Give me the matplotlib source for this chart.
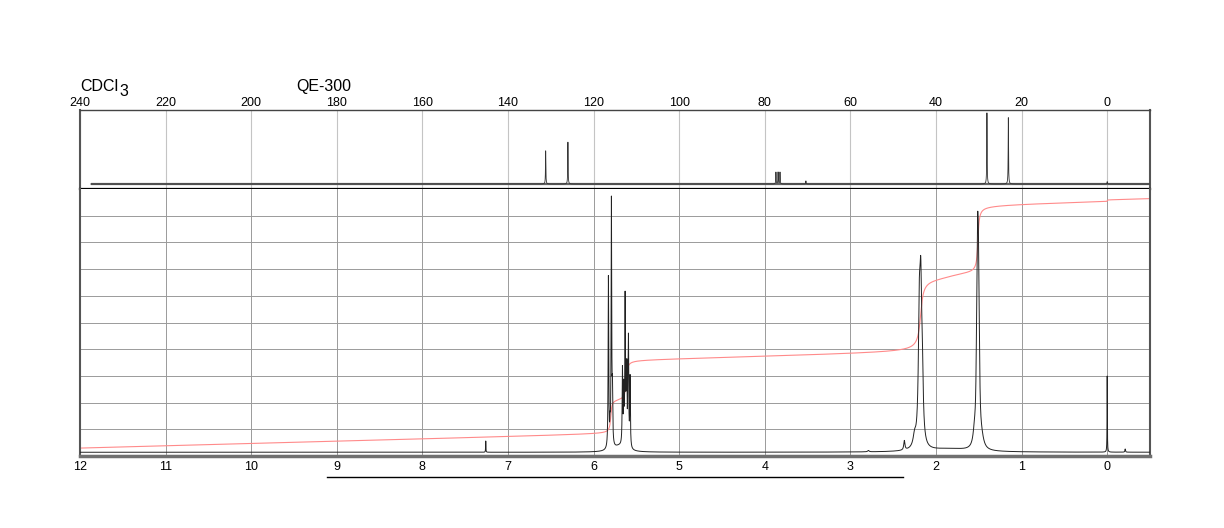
import numpy as np
import matplotlib.pyplot as plt

plt.rcParams['font.family'] = ['Liberation Sans', 'DejaVu Sans']

# 13C spectrum: peak positions (ppm) and heights above baseline
c13_ppm = [131.2, 126.0, 77.4, 76.9, 76.45, 70.4, 28.1, 23.1, 0.0]
c13_height = [0.42, 0.53, 0.15, 0.15, 0.15, 0.04, 0.90, 0.84, 0.03]
c13_base = 0.063
c13_start = 237.5
c13_ticks = [240, 220, 200, 180, 160, 140, 120, 100, 80, 60, 40, 20, 0]

# 1H spectrum: peak positions (ppm), heights and half widths
h1_ppm = [7.26,
          5.827, 5.808, 5.792, 5.780, 5.70,
          5.663, 5.648, 5.632, 5.620, 5.612, 5.600, 5.593, 5.574,
          2.79, 2.37, 2.25, 2.195, 2.178, 2.160, 1.85,
          1.55, 1.525, 1.514, 1.505, 1.495, 1.47,
          0.0, -0.21]
h1_height = [0.042,
             0.64, 0.06, 0.92, 0.18, 0.02,
             0.28, 0.20, 0.55, 0.20, 0.26, 0.20, 0.38, 0.26,
             0.005, 0.035, 0.04, 0.43, 0.50, 0.21, 0.012,
             0.05, 0.24, 0.54, 0.46, 0.21, 0.04,
             0.285, 0.012]
h1_hwhm = [0.002,
           0.004, 0.004, 0.004, 0.004, 0.08,
           0.004, 0.004, 0.004, 0.003, 0.003, 0.003, 0.004, 0.004,
           0.01, 0.008, 0.02, 0.013, 0.013, 0.012, 0.3,
           0.02, 0.008, 0.008, 0.008, 0.008, 0.03,
           0.002, 0.004]
h1_base = 0.014
h1_ticks = [12, 11, 10, 9, 8, 7, 6, 5, 4, 3, 2, 1, 0]

# integral trace: step positions, step sizes, step widths
int_ppm = [5.80, 5.62, 2.18, 1.85, 1.51, 0.0]
int_jump = [0.125, 0.15, 0.27, 0.03, 0.25, 0.006]
int_width = [0.010, 0.012, 0.025, 0.2, 0.012, 0.003]
int_start = 0.029
int_drift = 0.0085

# bar below the 1H axis (ppm)
bar_ppm = [9.11, 2.38]

fig = plt.figure(figsize=(12.24, 5.28), dpi=100)
ax_c = fig.add_axes([80/1224, 1-189/528, 1070/1224, 79/528])
ax_h = fig.add_axes([80/1224, 1-456/528, 1070/1224, 267/528])

# 13C
xc = np.arange(c13_start, -10, -0.01)
yc = np.full_like(xc, c13_base)
for p, h in zip(c13_ppm, c13_height):
    yc += h / (1 + ((xc - p) / 0.05) ** 2)
ax_c.hlines(c13_base, c13_start, -10, color='#666666', lw=1.6, zorder=2)
ax_c.plot(xc, yc, color='#333333', lw=0.6, zorder=3)
ax_c.set_xlim(240, -10)
ax_c.set_ylim(0, 1)
ax_c.set_xticks(c13_ticks)
ax_c.set_yticks([])
ax_c.tick_params(axis='x', top=False, bottom=False, labeltop=True, labelbottom=False,
                 length=0, pad=0.5, labelsize=9)
ax_c.grid(axis='x', color='#c4c4c4', lw=0.8)
ax_c.set_axisbelow(True)

# 1H
xh = np.arange(12, -0.5, -0.0005)
yh = np.full_like(xh, h1_base)
for p, h, w in zip(h1_ppm, h1_height, h1_hwhm):
    yh += h / (1 + ((xh - p) / w) ** 2)

integ = int_start + int_drift * (12 - xh)
for p, j, w in zip(int_ppm, int_jump, int_width):
    integ += j * (0.5 + np.arctan((p - xh) / w) / np.pi)

ax_h.plot(xh, integ, color='#ff8a8a', lw=0.8, zorder=2)
ax_h.plot(xh, yh, color='#222222', lw=0.7, zorder=3)
ax_h.set_xlim(12, -0.5)
ax_h.set_ylim(0, 1)
ax_h.set_xticks(h1_ticks)
ax_h.set_yticks(np.arange(0.1, 1.0, 0.1))
ax_h.tick_params(axis='x', length=0, pad=3.5, labelsize=9)
ax_h.tick_params(axis='y', length=0, labelleft=False)
ax_h.grid(color='#9a9a9a', lw=0.7)
ax_h.set_axisbelow(True)

ax_h.plot(bar_ppm, [-0.08, -0.08], color='black', lw=1.0,
          transform=ax_h.get_xaxis_transform(), clip_on=False)

# frame
for ax in (ax_c, ax_h):
    ax.spines['left'].set_color('#555555')
    ax.spines['left'].set_linewidth(1.5)
    ax.spines['right'].set_color('#555555')
    ax.spines['right'].set_linewidth(1.5)
ax_c.spines['top'].set_color('#444444')
ax_c.spines['top'].set_linewidth(1.0)
ax_c.spines['bottom'].set_color('black')
ax_c.spines['bottom'].set_linewidth(1.6)
ax_h.spines['top'].set_visible(False)
ax_h.spines['bottom'].set_color('#707070')
ax_h.spines['bottom'].set_linewidth(2.5)

t = fig.text(80/1224, 1-91/528, 'CDCl', fontsize=11.5, va='baseline')
fig.canvas.draw()
bb = t.get_window_extent().transformed(fig.transFigure.inverted())
fig.text(bb.x1 + 1/1224, 1-95.5/528, '3', fontsize=11.5, va='baseline')
fig.text(296/1224, 1-91/528, 'QE-300', fontsize=11.5, va='baseline')

fig.savefig('out.png', dpi=100)
